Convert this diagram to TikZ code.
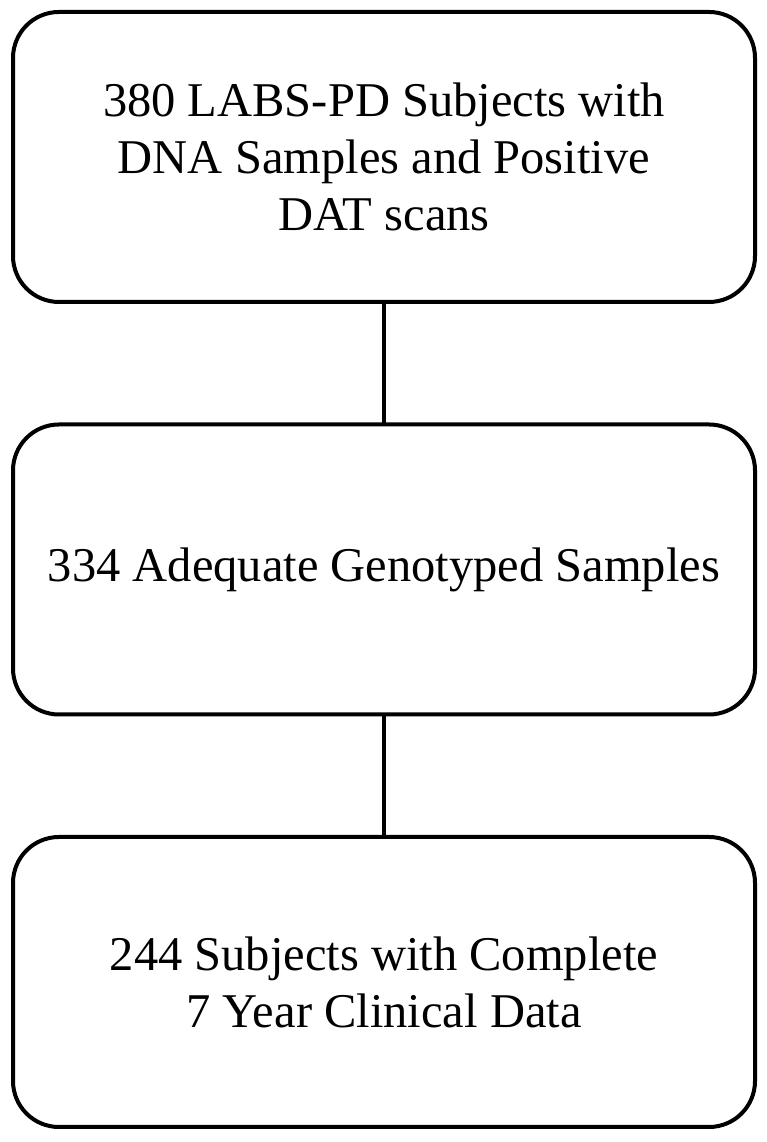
\documentclass[tikz,border=0pt]{standalone}
\usepackage{fontspec}
\setmainfont{Liberation Serif}
\usetikzlibrary{positioning}

\begin{document}
\begin{tikzpicture}[x=1pt, y=1pt, node distance=122.5pt,
  stagebox/.style={draw, line width=4pt, rounded corners=46pt, outer sep=0pt,
    minimum width=742pt, minimum height=290pt, align=center,
    font=\fontsize{48.5}{57}\selectfont}]
  \useasboundingbox (0,0) rectangle (766,1142);
  \node (subjects) [stagebox] at (384,985) {380 LABS-PD Subjects with\\DNA Samples and Positive\\DAT scans};
  \node (genotyped) [stagebox, below=of subjects] {334 Adequate Genotyped Samples};
  \node (complete) [stagebox, below=of genotyped] {244 Subjects with Complete\\7 Year Clinical Data};
  \draw[line width=4pt] (subjects) -- (genotyped);
  \draw[line width=4pt] (genotyped) -- (complete);
\end{tikzpicture}
\end{document}
